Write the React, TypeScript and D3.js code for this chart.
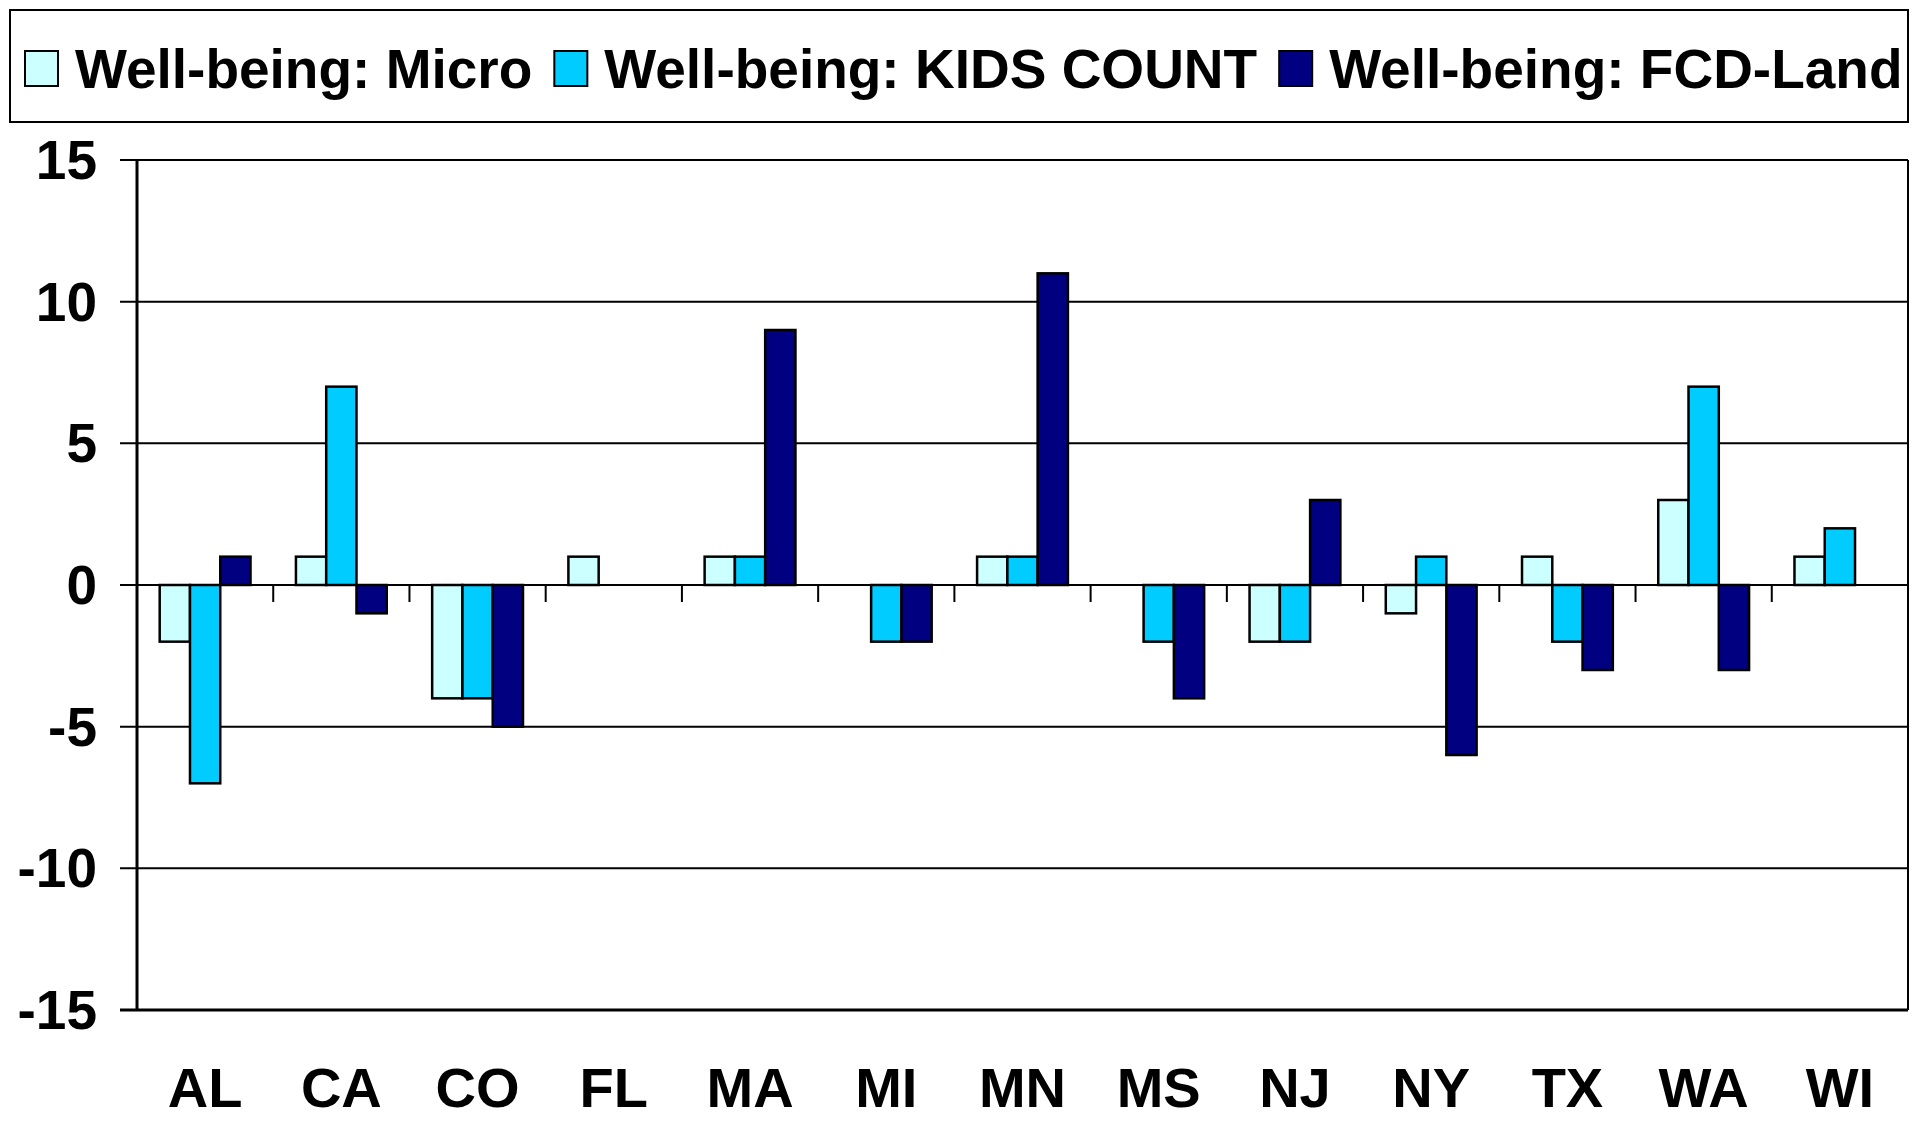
import { useRef, useEffect } from 'react';
import * as d3 from 'd3';

const categories = ['AL', 'CA', 'CO', 'FL', 'MA', 'MI', 'MN', 'MS', 'NJ', 'NY', 'TX', 'WA', 'WI'];
const seriesNames = ['Well-being: Micro', 'Well-being: KIDS COUNT', 'Well-being: FCD-Land'];
const microValues = [-2, 1, -4, 1, 1, 0, 1, 0, -2, -1, 1, 3, 1];
const kidsCountValues = [-7, 7, -4, 0, 1, -2, 1, -2, -2, 1, -2, 7, 2];
const fcdLandValues = [1, -1, -5, 0, 9, -2, 11, -4, 3, -6, -3, -3, 0];
const yTicks = [-15, -10, -5, 0, 5, 10, 15];
const colors = ['#CCFFFF', '#00CCFF', '#000080'];

const FONT = '"Liberation Sans", Arial, Helvetica, sans-serif';

const App = () => {
  const svgRef = useRef<SVGSVGElement>(null);

  useEffect(() => {
    const svg = d3.select(svgRef.current);
    svg.selectAll('*').remove();

    const width = 1915;
    const height = 1121;
    const plot = { left: 137, right: 1908, top: 160, bottom: 1010 };

    const allSeries = [microValues, kidsCountValues, fcdLandValues];

    const x0 = d3.scaleBand().domain(categories).range([plot.left, plot.right]).padding(0);
    const x1 = d3.scaleBand()
      .domain(seriesNames)
      .range([0, x0.bandwidth()])
      .paddingInner(0)
      .paddingOuter(0.75);
    const y = d3.scaleLinear().domain([-15, 15]).range([plot.bottom, plot.top]);

    svg.append('rect').attr('width', width).attr('height', height).attr('fill', '#fff');

    // legend
    const legend = svg.append('g');
    legend.append('rect')
      .attr('x', 10).attr('y', 10).attr('width', 1898).attr('height', 112)
      .attr('fill', '#fff').attr('stroke', '#000').attr('stroke-width', 2);
    let lx = 25;
    seriesNames.forEach((name, i) => {
      legend.append('rect')
        .attr('x', lx).attr('y', 51).attr('width', 33).attr('height', 35)
        .attr('fill', colors[i]).attr('stroke', '#000').attr('stroke-width', 2);
      const t = legend.append('text')
        .attr('x', lx + 50).attr('y', 88)
        .style('font-family', FONT).style('font-weight', 'bold').style('font-size', '55px')
        .text(name);
      const w = (t.node() as SVGTextElement).getComputedTextLength();
      lx = lx + 50 + w + 22;
    });

    // gridlines + y ticks
    svg.append('g').selectAll('line')
      .data(yTicks)
      .enter()
      .append('line')
      .attr('x1', plot.left - 17).attr('x2', plot.right)
      .attr('y1', d => y(d)).attr('y2', d => y(d))
      .attr('stroke', '#000').attr('stroke-width', 2);

    svg.append('g').selectAll('text')
      .data(yTicks)
      .enter()
      .append('text')
      .attr('x', 97).attr('y', d => y(d))
      .attr('text-anchor', 'end').attr('dominant-baseline', 'central')
      .style('font-family', FONT).style('font-weight', 'bold').style('font-size', '55px')
      .text(d => String(d));

    // category ticks below the zero line
    svg.append('g').selectAll('line')
      .data(categories.slice(1))
      .enter()
      .append('line')
      .attr('x1', d => x0(d)!).attr('x2', d => x0(d)!)
      .attr('y1', y(0)).attr('y2', y(0) + 17)
      .attr('stroke', '#000').attr('stroke-width', 2);

    // bars
    const bars = svg.append('g');
    allSeries.forEach((vals, si) => {
      bars.selectAll(`.bar${si}`)
        .data(vals.map((v, i) => ({ cat: categories[i], v })).filter(d => d.v !== 0))
        .enter()
        .append('rect')
        .attr('x', d => x0(d.cat)! + x1(seriesNames[si])!)
        .attr('y', d => y(Math.max(0, d.v)))
        .attr('width', x1.bandwidth())
        .attr('height', d => Math.abs(y(d.v) - y(0)))
        .attr('fill', colors[si])
        .attr('stroke', '#000').attr('stroke-width', 2.5);
    });

    // plot frame
    svg.append('line')
      .attr('x1', plot.left).attr('x2', plot.left).attr('y1', plot.top).attr('y2', plot.bottom)
      .attr('stroke', '#000').attr('stroke-width', 3);
    svg.append('line')
      .attr('x1', plot.right).attr('x2', plot.right).attr('y1', plot.top).attr('y2', plot.bottom)
      .attr('stroke', '#000').attr('stroke-width', 2);
    svg.append('line')
      .attr('x1', plot.left - 17).attr('x2', plot.right).attr('y1', plot.bottom).attr('y2', plot.bottom)
      .attr('stroke', '#000').attr('stroke-width', 3);

    // x labels
    svg.append('g').selectAll('text')
      .data(categories)
      .enter()
      .append('text')
      .attr('x', d => x0(d)! + x0.bandwidth() / 2)
      .attr('y', 1107)
      .attr('text-anchor', 'middle')
      .style('font-family', FONT).style('font-weight', 'bold').style('font-size', '56px')
      .text(d => d);
  }, []);

  return (
    <svg
      ref={svgRef}
      width="1915"
      height="1121"
      style={{ position: 'absolute', left: 0, top: 0 }}
    ></svg>
  );
};

export default App;
